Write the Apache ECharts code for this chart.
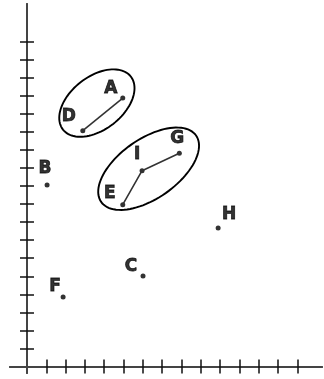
<!DOCTYPE html>
<html>
<head>
<meta charset="utf-8">
<script src="https://cdn.jsdelivr.net/npm/echarts@6/dist/echarts.min.js"></script>
<style>
  html, body { margin: 0; padding: 0; background: #fff; }
  #main { width: 324px; height: 379px; }
</style>
</head>
<body>
<div id="main"></div>
<script>
// points
var names = ['A', 'B', 'C', 'D', 'E', 'F', 'G', 'H', 'I'];
var xs = [4.96, 1.04, 6.01, 2.89, 4.96, 1.87, 7.89, 9.90, 5.96];
var ys = [14.88, 10.06, 5.02, 13.07, 8.97, 3.85, 11.82, 7.68, 10.85];

// joined points
var paths = [['D', 'A'], ['E', 'I', 'G']];

// ellipses: centre x, centre y, semi axis a, semi axis b (x units), tilt in degrees
var ellipses = [
    [3.62, 14.6, 2.23, 1.37, 38],
    [6.30, 10.96, 3.0, 1.54, 35]
];

var xTicks = [1, 2, 3, 4, 5, 6, 7, 8, 9, 10, 11, 12, 13, 14];
var yTicks = [1, 2, 3, 4, 5, 6, 7, 8, 9, 10, 11, 12, 13, 14, 15, 16, 17, 18];

// label nudges (pixels) so the letters sit where they do in the sketch
var labelNudge = {
    A: [-12, -9], B: [-2, -16], C: [-12, -9], D: [-14, -14], E: [-13, -11],
    F: [-8, -10], G: [-2, -15], H: [11, -13], I: [-5, -16]
};

function pt(name) {
    var i = names.indexOf(name);
    return [xs[i], ys[i]];
}

var myChart = echarts.init(document.getElementById('main'));

function makeX(gridIndex, inside) {
    return {
        type: 'value', gridIndex: gridIndex, min: -0.88, max: 15.28,
        axisLine: { show: true, onZero: true, lineStyle: { color: '#444', width: 2 } },
        axisTick: { show: true, inside: inside, length: 7, customValues: xTicks,
            lineStyle: { color: '#111', width: 1.5 } },
        axisLabel: { show: false },
        splitLine: { show: false }
    };
}
function makeY(gridIndex, inside) {
    return {
        type: 'value', gridIndex: gridIndex, min: -0.36, max: 20.09,
        axisLine: { show: true, onZero: true, lineStyle: { color: '#444', width: 2 } },
        axisTick: { show: true, inside: inside, length: 7, customValues: yTicks,
            lineStyle: { color: '#111', width: 1.5 } },
        axisLabel: { show: false },
        splitLine: { show: false }
    };
}

var grid = { left: 10, right: 2, top: 4, bottom: 6 };

var series = [];

paths.forEach(function (p) {
    series.push({
        type: 'line',
        xAxisIndex: 0, yAxisIndex: 0,
        data: p.map(pt),
        symbol: 'none',
        lineStyle: { color: '#333', width: 1.6 },
        silent: true,
        animation: false
    });
});

series.push({
    type: 'custom',
    xAxisIndex: 0, yAxisIndex: 0,
    clip: false,
    data: ellipses,
    renderItem: function (params, api) {
        var c = api.coord([api.value(0), api.value(1)]);
        var s = api.size([1, 1]);
        var a = api.value(2) * s[0];
        var b = api.value(3) * s[0];
        var th = api.value(4) * Math.PI / 180;
        var points = [];
        for (var k = 0; k < 96; k++) {
            var t = k / 96 * Math.PI * 2;
            var ex = a * Math.cos(t), ey = b * Math.sin(t);
            points.push([
                c[0] + ex * Math.cos(th) - ey * Math.sin(th),
                c[1] - (ex * Math.sin(th) + ey * Math.cos(th))
            ]);
        }
        return {
            type: 'polygon',
            shape: { points: points },
            style: { fill: 'none', stroke: '#000', lineWidth: 1.9 }
        };
    },
    animation: false
});

series.push({
    type: 'scatter',
    xAxisIndex: 0, yAxisIndex: 0,
    symbolSize: 5,
    itemStyle: { color: '#000' },
    data: names.map(function (n, i) {
        return {
            name: n,
            value: [xs[i], ys[i]],
            label: { offset: labelNudge[n] }
        };
    }),
    label: {
        show: true,
        position: 'inside',
        formatter: '{b}',
        color: '#000',
        fontFamily: 'DejaVu Sans',
        fontWeight: 'bold',
        fontSize: 17,
        textBorderColor: '#000',
        textBorderWidth: 0.8
    },
    animation: false
});

var option = {
    backgroundColor: '#fff',
    animation: false,
    grid: [grid, grid],
    xAxis: [makeX(0, true), makeX(1, false)],
    yAxis: [makeY(0, true), makeY(1, false)],
    series: series
};

myChart.setOption(option);
</script>
</body>
</html>
